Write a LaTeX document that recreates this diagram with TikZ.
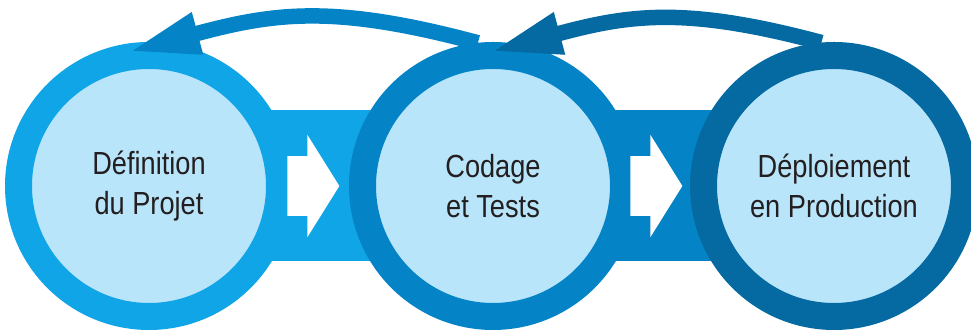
\documentclass[tikz,border=0pt]{standalone}
\usepackage{fontspec}
\setmainfont{Liberation Sans}[FakeStretch=0.85]
\usetikzlibrary{shapes.arrows,arrows.meta,backgrounds}
\definecolor{ringA}{RGB}{16,165,230}
\definecolor{ringB}{RGB}{4,132,198}
\definecolor{ringC}{RGB}{5,106,162}
\definecolor{discfill}{RGB}{185,229,250}
\definecolor{phasetext}{RGB}{35,31,32}
\tikzset{my phase/.style={circle, minimum size=5.22cm, line width=0.54cm, fill=discfill, inner sep=0pt, align=center, text=phasetext, font=\fontsize{18.2}{22.8}\selectfont},
my band/.style={line width=3.02cm},
my arrow/.style={single arrow, fill=white, anchor=tail, inner xsep=0pt, inner ysep=0.59cm, minimum height=1.04cm, single arrow head extend=0.43cm, single arrow tip angle=116},
my loop/.style={line width=0.31cm, -{Triangle[length=1.44cm, width=0.78cm]}},}

\begin{document}
\begin{tikzpicture}
\useasboundingbox (0,0) rectangle (19.42,6.62);
\node [my phase,draw=ringA] (def) at (  2.980000,  2.900000) {Définition\\du Projet};
\node [my phase,draw=ringB] (cod) at (  9.860000,  2.900000) {Codage\\et Tests};
\node [my phase,draw=ringC] (dep) at ( 16.680000,  2.900000) {Déploiement\\en Production};
\begin{scope}[on background layer]
\draw [my band,ringA] (def.center) -- (cod.center);
\draw [my band,ringB] (cod.center) -- (dep.center);
\end{scope}
\node [my arrow] (go1) at (  5.740000,  2.900000) {};
\node [my arrow] (go2) at ( 12.600000,  2.900000) {};
\coordinate (back1) at (  2.560000,  5.580000);
\coordinate (back2) at (  9.800000,  5.580000);
\draw [my loop,ringB] (cod.96) to[out=165,in=15,looseness=1.1] (back1);
\draw [my loop,ringC] (dep.95) to[out=165,in=15,looseness=1.1] (back2);
\end{tikzpicture}
\end{document}
